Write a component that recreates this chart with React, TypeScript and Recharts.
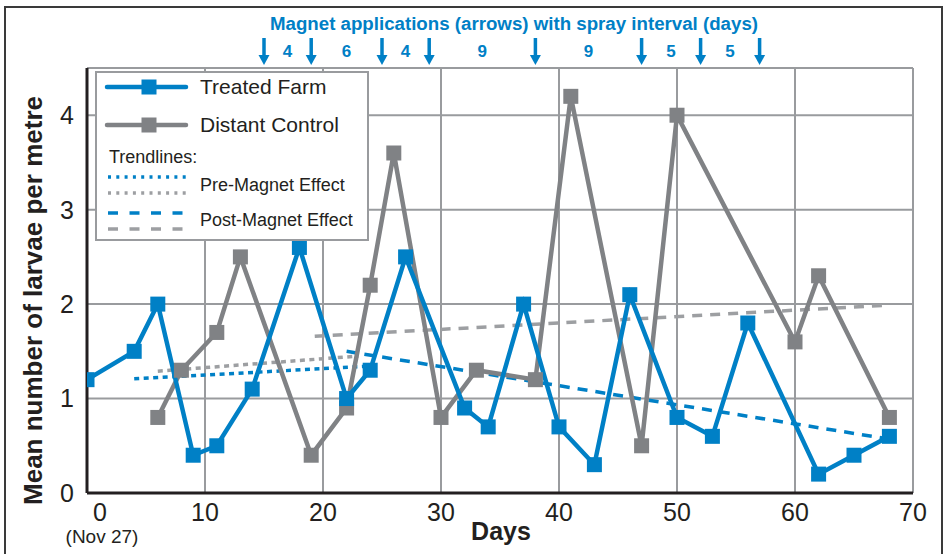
import React from "react";
import {
  LineChart,
  Line,
  XAxis,
  YAxis,
  CartesianGrid,
  ReferenceLine,
  ReferenceDot,
  Legend,
} from "recharts";

const FONT = "'Liberation Sans', Arial, Helvetica, sans-serif";
const BLUE = "#0080C6";
const GRAY = "#808285";
const TREND_GRAY = "#9D9FA2";
const GRID = "#999B9E";
const INK = "#231F20";

// Treated Farm (blue)
const treatedDays = [0, 4, 6, 9, 11, 14, 18, 22, 24, 27, 32, 34, 37, 40, 43, 46, 50, 53, 56, 62, 65, 68];
const treatedLarvae = [1.2, 1.5, 2.0, 0.4, 0.5, 1.1, 2.6, 1.0, 1.3, 2.5, 0.9, 0.7, 2.0, 0.7, 0.3, 2.1, 0.8, 0.6, 1.8, 0.2, 0.4, 0.6];

// Distant Control (gray)
const controlDays = [6, 8, 11, 13, 19, 22, 24, 26, 30, 33, 38, 41, 47, 50, 60, 62, 68];
const controlLarvae = [0.8, 1.3, 1.7, 2.5, 0.4, 0.9, 2.2, 3.6, 0.8, 1.3, 1.2, 4.2, 0.5, 4.0, 1.6, 2.3, 0.8];

// trendlines (start / end)
const preTreatedTrend = { days: [4, 23.5], values: [1.21, 1.34] };
const preControlTrend = { days: [6, 23], values: [1.29, 1.45] };
const postTreatedTrend = { days: [22, 68], values: [1.5, 0.57] };
const postControlTrend = { days: [19.3, 68], values: [1.66, 1.99] };

// magnet applications and spray intervals
const magnetDays = [15, 19, 25, 29, 38, 47, 52, 57];
const sprayIntervals = [4, 6, 4, 9, 9, 5, 5];

const xTicks = [0, 10, 20, 30, 40, 50, 60, 70];
const yTicks = [0, 1, 2, 3, 4];
const Y_MAX = 4.5;

const toPoints = (days: number[], values: number[]) =>
  days.map((d, i) => ({ day: d, value: values[i] }));

const treatedData = toPoints(treatedDays, treatedLarvae);
const controlData = toPoints(controlDays, controlLarvae);
const preTreatedData = toPoints(preTreatedTrend.days, preTreatedTrend.values);
const preControlData = toPoints(preControlTrend.days, preControlTrend.values);
const postTreatedData = toPoints(postTreatedTrend.days, postTreatedTrend.values);
const postControlData = toPoints(postControlTrend.days, postControlTrend.values);

const intervalMarks = sprayIntervals.map((v, i) => ({
  day: (magnetDays[i] + magnetDays[i + 1]) / 2,
  label: String(v),
}));

const square = (color: string) => (props: any) => {
  const { cx, cy, index } = props;
  if (cx == null || cy == null) return <g key={index} />;
  return <rect key={index} x={cx - 7.5} y={cy - 7.5} width={15} height={15} fill={color} />;
};

const XTick = (props: any) => {
  const { x, y, payload } = props;
  const first = payload.value === 0;
  return (
    <g>
      <text x={first ? x + 13 : x} y={y + 28} textAnchor="middle" fontSize={25} fill={INK} fontFamily={FONT}>
        {payload.value}
      </text>
      {first && (
        <text x={x + 15} y={y + 50} textAnchor="middle" fontSize={19} fill={INK} fontFamily={FONT}>
          (Nov 27)
        </text>
      )}
    </g>
  );
};

const ArrowShape = (props: any) => {
  const { cx, cy } = props;
  return (
    <g>
      <rect x={cx - 1.75} y={cy - 30} width={3.5} height={18} fill={BLUE} />
      <polygon points={`${cx - 5.5},${cy - 13} ${cx + 5.5},${cy - 13} ${cx},${cy - 3}`} fill={BLUE} />
    </g>
  );
};

const intervalShape = (label: string) => (props: any) => (
  <text x={props.cx} y={props.cy - 11} textAnchor="middle" fontSize={17} fontWeight="bold" fill={BLUE} fontFamily={FONT}>
    {label}
  </text>
);

const LegendBox = () => (
  <svg width={276} height={172} style={{ display: "block" }}>
    <rect x={1} y={1} width={272} height={168} fill="#fff" stroke={GRID} strokeWidth={2} />
    <line x1={12} x2={91} y1={16} y2={16} stroke={BLUE} strokeWidth={4.5} strokeLinecap="round" />
    <rect x={46.5} y={8.5} width={15} height={15} fill={BLUE} />
    <text x={105} y={23} fontSize={21} fill={INK} fontFamily={FONT}>Treated Farm</text>
    <line x1={12} x2={91} y1={54} y2={54} stroke={GRAY} strokeWidth={4.5} strokeLinecap="round" />
    <rect x={46.5} y={46.5} width={15} height={15} fill={GRAY} />
    <text x={105} y={61} fontSize={21} fill={INK} fontFamily={FONT}>Distant Control</text>
    <text x={14} y={92} fontSize={18} fill={INK} fontFamily={FONT}>Trendlines:</text>
    <line x1={13} x2={92} y1={106} y2={106} stroke={BLUE} strokeWidth={3.5} strokeDasharray="3 5.3" />
    <line x1={13} x2={92} y1={122} y2={122} stroke={TREND_GRAY} strokeWidth={3.5} strokeDasharray="3 5.3" />
    <text x={105} y={120} fontSize={18} fill={INK} fontFamily={FONT}>Pre-Magnet Effect</text>
    <line x1={13} x2={92} y1={142} y2={142} stroke={BLUE} strokeWidth={3.5} strokeDasharray="10 11.5" />
    <line x1={13} x2={92} y1={158} y2={158} stroke={TREND_GRAY} strokeWidth={3.5} strokeDasharray="10 11.5" />
    <text x={105} y={155} fontSize={18} fill={INK} fontFamily={FONT}>Post-Magnet Effect</text>
  </svg>
);

const yTitle = (props: any) => {
  const vb = props.viewBox;
  const x = vb.x + 15;
  const y = vb.y + vb.height / 2 + 20;
  return (
    <text x={x} y={y} transform={`rotate(-90, ${x}, ${y})`} textAnchor="middle" fontSize={26} fontWeight="bold" fill={INK} fontFamily={FONT}>
      Mean number of larvae per metre
    </text>
  );
};

const xTitle = (props: any) => {
  const vb = props.viewBox;
  return (
    <text x={vb.x + vb.width / 2 + 1} y={vb.y + 47} textAnchor="middle" fontSize={25} fontWeight="bold" fill={INK} fontFamily={FONT}>
      Days
    </text>
  );
};

export default function App() {
  return (
    <div style={{ position: "absolute", left: 0, top: 0, width: 946, height: 554, background: "#fff", overflow: "hidden", fontFamily: FONT }}>
      <LineChart width={946} height={554} margin={{ top: 68, right: 33, bottom: 11, left: 27 }}>
        <CartesianGrid stroke={GRID} strokeWidth={2} />
        <XAxis
          dataKey="day"
          type="number"
          domain={[0, 70]}
          ticks={xTicks}
          tick={<XTick />}
          tickLine={false}
          tickSize={0}
          tickMargin={0}
          height={50}
          axisLine={{ stroke: INK, strokeWidth: 3 }}
          label={xTitle}
          allowDataOverflow
        />
        <YAxis
          type="number"
          domain={[0, Y_MAX]}
          ticks={yTicks}
          width={60}
          tickLine={false}
          tickSize={0}
          tickMargin={13}
          tick={{ fontSize: 25, fill: INK, fontFamily: FONT }}
          axisLine={{ stroke: INK, strokeWidth: 3 }}
          label={yTitle}
          allowDataOverflow
        />
        <ReferenceLine y={Y_MAX} stroke={GRID} strokeWidth={2} />
        <Legend
          layout="vertical"
          align="center"
          verticalAlign="middle"
          content={() => <LegendBox />}
          wrapperStyle={{ left: 95, top: 71, width: 276, height: 172 }}
        />
        <Line data={preControlData} dataKey="value" name="Pre-Magnet Effect (control)" stroke={TREND_GRAY} strokeWidth={3.5} strokeDasharray="5 4.5" dot={false} activeDot={false} isAnimationActive={false} />
        <Line data={preTreatedData} dataKey="value" name="Pre-Magnet Effect (treated)" stroke={BLUE} strokeWidth={3.5} strokeDasharray="5 4.5" dot={false} activeDot={false} isAnimationActive={false} />
        <Line data={postControlData} dataKey="value" name="Post-Magnet Effect (control)" stroke={TREND_GRAY} strokeWidth={3.5} strokeDasharray="10 8" dot={false} activeDot={false} isAnimationActive={false} />
        <Line data={postTreatedData} dataKey="value" name="Post-Magnet Effect (treated)" stroke={BLUE} strokeWidth={3.5} strokeDasharray="10 8" dot={false} activeDot={false} isAnimationActive={false} />
        <Line data={controlData} dataKey="value" name="Distant Control" stroke={GRAY} strokeWidth={4.5} dot={square(GRAY)} activeDot={false} isAnimationActive={false} />
        <Line data={treatedData} dataKey="value" name="Treated Farm" stroke={BLUE} strokeWidth={4.5} dot={square(BLUE)} activeDot={false} isAnimationActive={false} />
        {magnetDays.map((d) => (
          <ReferenceDot key={`m${d}`} x={d} y={Y_MAX} ifOverflow="visible" shape={ArrowShape} />
        ))}
        {intervalMarks.map((m, i) => (
          <ReferenceDot key={`i${i}`} x={m.day} y={Y_MAX} ifOverflow="visible" shape={intervalShape(m.label)} />
        ))}
      </LineChart>
      <div
        style={{
          position: "absolute",
          left: 514,
          top: 15,
          transform: "translateX(-50%)",
          whiteSpace: "nowrap",
          fontSize: 18.7,
          lineHeight: "18.7px",
          fontWeight: "bold",
          color: BLUE,
        }}
      >
        Magnet applications (arrows) with spray interval (days)
      </div>
      <div
        style={{
          position: "absolute",
          left: 4,
          top: 6,
          width: 939,
          height: 620,
          border: "2px solid #3a3a3a",
          boxSizing: "border-box",
          pointerEvents: "none",
        }}
      />
    </div>
  );
}
